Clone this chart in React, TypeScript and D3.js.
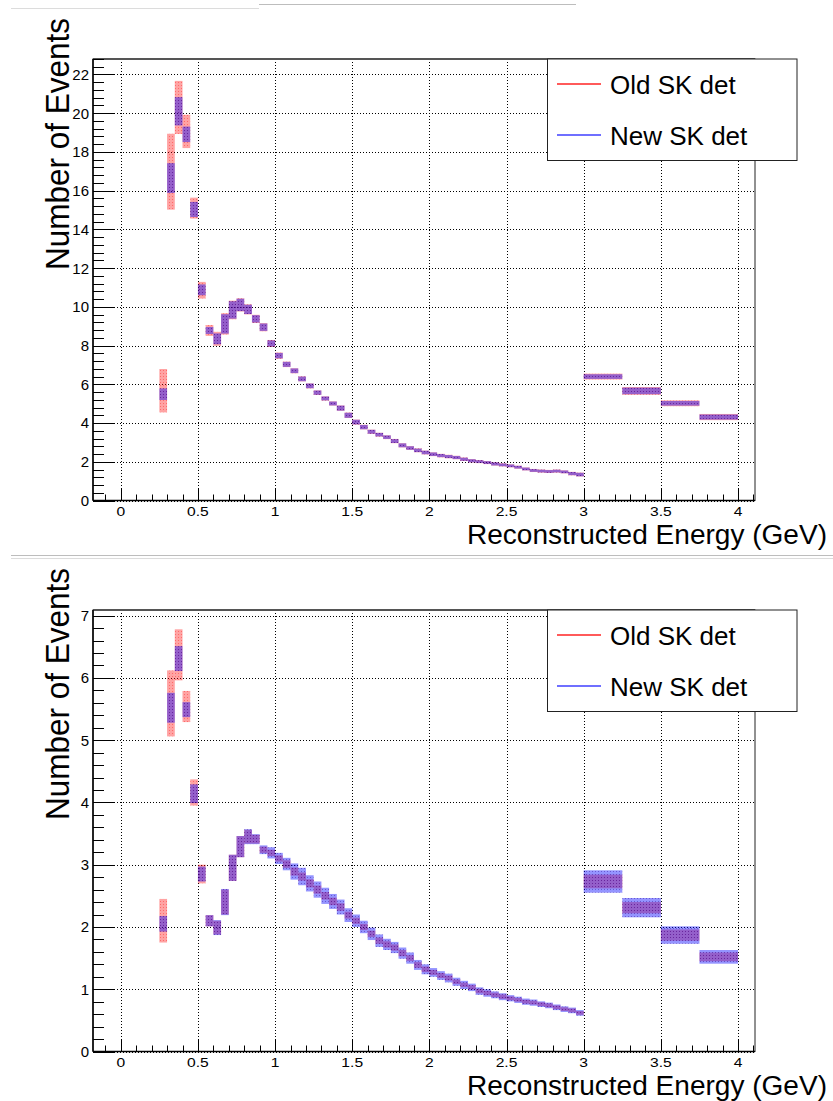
import React from "react";
import * as d3 from "d3";

// Bin edges of the reconstructed-energy histogram (GeV); bins below 0.25 GeV are empty.
const binEdges = [
  0.25, 0.3, 0.35, 0.4, 0.45, 0.5, 0.55, 0.6, 0.65, 0.7, 0.75, 0.8, 0.85, 0.9, 0.95,
  1.0, 1.05, 1.1, 1.15, 1.2, 1.25, 1.3, 1.35, 1.4, 1.45, 1.5, 1.55, 1.6, 1.65, 1.7,
  1.75, 1.8, 1.85, 1.9, 1.95, 2.0, 2.05, 2.1, 2.15, 2.2, 2.25, 2.3, 2.35, 2.4, 2.45,
  2.5, 2.55, 2.6, 2.65, 2.7, 2.75, 2.8, 2.85, 2.9, 2.95, 3.0, 3.25, 3.5, 3.75, 4.0,
];

// Upper panel: contents and errors per bin
const topOldValues = [
  5.67, 16.98, 20.3, 19.06, 15.1, 10.86, 8.78, 8.35, 9.12, 9.84, 10.1, 9.87, 9.38, 8.95, 8.11,
  7.48, 7.03, 6.7, 6.28, 5.92, 5.57, 5.27, 5.01, 4.77, 4.4, 4.05, 3.79, 3.55, 3.4, 3.27,
  3.07, 2.85, 2.71, 2.59, 2.48, 2.39, 2.32, 2.27, 2.22, 2.13, 2.05, 2.01, 1.96, 1.89, 1.84,
  1.79, 1.72, 1.63, 1.55, 1.52, 1.5, 1.52, 1.48, 1.39, 1.34, 6.4, 5.66, 5.02, 4.31,
];
const topOldErrors = [
  1.12, 1.96, 1.37, 0.86, 0.54, 0.43, 0.28, 0.36, 0.55, 0.48, 0.34, 0.26, 0.21, 0.21, 0.18,
  0.16, 0.14, 0.13, 0.13, 0.13, 0.12, 0.11, 0.11, 0.14, 0.14, 0.13, 0.12, 0.11, 0.1, 0.1,
  0.11, 0.11, 0.1, 0.1, 0.1, 0.1, 0.09, 0.09, 0.09, 0.09, 0.09, 0.08, 0.08, 0.09, 0.08,
  0.08, 0.08, 0.08, 0.08, 0.08, 0.08, 0.08, 0.08, 0.09, 0.1, 0.15, 0.2, 0.15, 0.16,
];
const topNewValues = [
  5.49, 16.65, 20.1, 18.91, 15.03, 10.88, 8.78, 8.35, 9.12, 9.84, 10.1, 9.87, 9.38, 8.95, 8.11,
  7.48, 7.03, 6.7, 6.28, 5.92, 5.57, 5.27, 5.01, 4.77, 4.4, 4.05, 3.79, 3.55, 3.4, 3.27,
  3.07, 2.85, 2.71, 2.59, 2.48, 2.39, 2.32, 2.27, 2.22, 2.13, 2.05, 2.01, 1.96, 1.89, 1.84,
  1.79, 1.72, 1.63, 1.55, 1.52, 1.5, 1.52, 1.48, 1.39, 1.34, 6.4, 5.66, 5.02, 4.31,
];
const topNewErrors = [
  0.3, 0.77, 0.73, 0.4, 0.39, 0.28, 0.18, 0.28, 0.5, 0.45, 0.32, 0.24, 0.19, 0.19, 0.16,
  0.14, 0.13, 0.12, 0.12, 0.12, 0.11, 0.1, 0.1, 0.13, 0.13, 0.12, 0.11, 0.1, 0.09, 0.09,
  0.1, 0.1, 0.09, 0.09, 0.09, 0.09, 0.08, 0.08, 0.08, 0.08, 0.08, 0.07, 0.07, 0.08, 0.07,
  0.07, 0.07, 0.07, 0.07, 0.07, 0.07, 0.07, 0.07, 0.08, 0.09, 0.12, 0.17, 0.12, 0.13,
];

// Lower panel: contents and errors per bin
const bottomOldValues = [
  2.1, 5.59, 6.37, 5.54, 4.16, 2.85, 2.1, 1.99, 2.4, 2.95, 3.29, 3.45, 3.41, 3.24, 3.19,
  3.1, 3.01, 2.89, 2.81, 2.7, 2.6, 2.5, 2.41, 2.32, 2.19, 2.1, 2.0, 1.89, 1.78, 1.72,
  1.67, 1.58, 1.5, 1.39, 1.32, 1.27, 1.22, 1.18, 1.12, 1.07, 1.03, 0.97, 0.94, 0.91, 0.88,
  0.855, 0.83, 0.8, 0.785, 0.76, 0.74, 0.71, 0.68, 0.66, 0.62, 2.73, 2.31, 1.87, 1.52,
];
const bottomOldErrors = [
  0.35, 0.53, 0.41, 0.25, 0.21, 0.15, 0.09, 0.11, 0.2, 0.21, 0.17, 0.11, 0.07, 0.05, 0.05,
  0.05, 0.06, 0.065, 0.065, 0.065, 0.065, 0.06, 0.06, 0.06, 0.055, 0.05, 0.05, 0.05, 0.05, 0.05,
  0.05, 0.05, 0.045, 0.045, 0.045, 0.04, 0.04, 0.04, 0.035, 0.035, 0.035, 0.035, 0.035, 0.035, 0.035,
  0.03, 0.03, 0.03, 0.03, 0.03, 0.03, 0.03, 0.03, 0.03, 0.03, 0.11, 0.09, 0.09, 0.07,
];
const bottomNewValues = [
  2.05, 5.52, 6.31, 5.49, 4.14, 2.85, 2.1, 1.99, 2.4, 2.95, 3.29, 3.45, 3.41, 3.24, 3.19,
  3.1, 3.01, 2.89, 2.81, 2.7, 2.6, 2.5, 2.41, 2.32, 2.19, 2.1, 2.0, 1.89, 1.78, 1.72,
  1.67, 1.58, 1.5, 1.39, 1.32, 1.27, 1.22, 1.18, 1.12, 1.07, 1.03, 0.97, 0.94, 0.91, 0.88,
  0.855, 0.83, 0.8, 0.785, 0.76, 0.74, 0.71, 0.68, 0.66, 0.62, 2.73, 2.31, 1.87, 1.52,
];
const bottomNewErrors = [
  0.125, 0.24, 0.2, 0.12, 0.15, 0.12, 0.09, 0.12, 0.21, 0.21, 0.17, 0.12, 0.08, 0.07, 0.09,
  0.09, 0.1, 0.13, 0.14, 0.13, 0.13, 0.13, 0.12, 0.12, 0.11, 0.1, 0.1, 0.1, 0.1, 0.09,
  0.09, 0.09, 0.09, 0.08, 0.08, 0.07, 0.07, 0.07, 0.065, 0.065, 0.06, 0.06, 0.06, 0.055, 0.055,
  0.05, 0.05, 0.05, 0.05, 0.045, 0.045, 0.045, 0.045, 0.045, 0.045, 0.18, 0.155, 0.14, 0.11,
];

const xTickLabels = ["0", "0.5", "1", "1.5", "2", "2.5", "3", "3.5", "4"];
const legendLabels = ["Old SK det", "New SK det"];
const xTitle = "Reconstructed Energy (GeV)";
const yTitle = "Number of Events";

const FONT = '"Liberation Sans", Arial, Helvetica, sans-serif';
const W = 833;
const H = 1101;
const LEFT = 93;
const RIGHT = 755;
const X_DOMAIN: [number, number] = [-0.18, 4.11];

type PanelProps = {
  id: string;
  top: number;
  bottom: number;
  yMax: number;
  yMajorStep: number;
  yMajorMax: number;
  yMinorStep: number;
  oldValues: number[];
  oldErrors: number[];
  newValues: number[];
  newErrors: number[];
  titleTop: number;
};

// approximate advance width of a numeric label, in em
function digitWidth(s: string) {
  let w = 0;
  for (const c of s) w += c === "." ? 0.278 : 0.556;
  return w;
}

function Panel(p: PanelProps) {
  const x = d3.scaleLinear().domain(X_DOMAIN).range([LEFT, RIGHT]);
  const y = d3.scaleLinear().domain([0, p.yMax]).range([p.bottom, p.top]);

  const xMajor = xTickLabels.map(Number);
  const xMinor = d3.range(-1, 42).map((k) => k / 10);
  const yMajorTicks = d3.range(0, Math.round(p.yMajorMax / p.yMajorStep) + 1).map((k) => k * p.yMajorStep);
  const nMinor = Math.floor(p.yMax / p.yMinorStep + 1e-6);
  const yMinorTicks = d3.range(0, nMinor + 1).map((k) => k * p.yMinorStep);

  const boxes = (vals: number[], errs: number[], fill: string) =>
    vals.map((v, i) => {
      const x0 = x(binEdges[i]);
      const x1 = x(binEdges[i + 1]);
      const yt = y(v + errs[i]);
      const yb = y(v - errs[i]);
      return <rect key={i} x={x0} y={yt} width={x1 - x0} height={Math.max(yb - yt, 1)} fill={fill} />;
    });

  const xLabelSize = 12.5;
  const legTop = p.top;

  return (
    <g>
      <defs>
        <clipPath id={`clip-${p.id}`}>
          <rect x={LEFT} y={p.top} width={RIGHT - LEFT} height={p.bottom - p.top} />
        </clipPath>
      </defs>

      {/* dotted grid */}
      <g stroke="#000" strokeWidth={1} strokeDasharray="1 2" fill="none">
        {yMajorTicks.map((t) => (
          <line key={`gy${t}`} x1={LEFT} x2={RIGHT} y1={Math.round(y(t)) + 0.5} y2={Math.round(y(t)) + 0.5} />
        ))}
        {xMajor.map((t) => (
          <line key={`gx${t}`} x1={Math.round(x(t)) + 0.5} x2={Math.round(x(t)) + 0.5} y1={p.top} y2={p.bottom} />
        ))}
      </g>

      {/* error boxes: old detector first, new detector on top */}
      <g clipPath={`url(#clip-${p.id})`}>
        {boxes(p.oldValues, p.oldErrors, "url(#patRed)")}
        {boxes(p.newValues, p.newErrors, "url(#patBlue)")}
      </g>

      {/* frame */}
      <rect x={LEFT} y={p.top} width={RIGHT - LEFT} height={p.bottom - p.top} fill="none" stroke="#222" strokeWidth={1} />
      <line x1={LEFT} x2={RIGHT} y1={p.top} y2={p.top} stroke="#555" strokeWidth={2} />

      {/* x axis ticks */}
      <g stroke="#000" strokeWidth={1}>
        {xMinor.map((t) => {
          const isMajor = Math.abs(t * 2 - Math.round(t * 2)) < 1e-6;
          const len = isMajor ? 12 : 6;
          const xx = Math.round(x(t)) + 0.5;
          return <line key={`xt${t}`} x1={xx} x2={xx} y1={p.bottom} y2={p.bottom - len} />;
        })}
      </g>
      <line x1={LEFT} x2={RIGHT} y1={p.bottom} y2={p.bottom} stroke="#000" strokeWidth={1.5} />
      {xMajor.map((t, i) => {
        const lab = xTickLabels[i];
        return (
          <text
            key={`xl${t}`}
            x={x(t)}
            y={p.bottom + 15.5}
            textAnchor="middle"
            fontFamily={FONT}
            fontSize={xLabelSize}
            textLength={digitWidth(lab) * xLabelSize * 1.25}
            lengthAdjust="spacingAndGlyphs"
            fill="#000"
          >
            {lab}
          </text>
        );
      })}

      {/* y axis ticks */}
      <g stroke="#000" strokeWidth={1}>
        {yMinorTicks.map((t) => {
          const isMajor = Math.abs(t / p.yMajorStep - Math.round(t / p.yMajorStep)) < 1e-6;
          const len = isMajor ? 22 : 11;
          const yy = Math.round(y(t)) + 0.5;
          return <line key={`yt${t}`} x1={LEFT} x2={LEFT + len} y1={yy} y2={yy} />;
        })}
      </g>
      <line x1={LEFT} x2={LEFT} y1={p.top} y2={p.bottom} stroke="#000" strokeWidth={1.5} />
      {yMajorTicks.map((t) => (
        <text key={`yl${t}`} x={89} y={y(t)} dy="0.36em" textAnchor="end" fontFamily={FONT} fontSize={15} fill="#000">
          {String(t)}
        </text>
      ))}

      {/* axis titles */}
      <text
        transform={`translate(69,${p.titleTop}) rotate(-90)`}
        textAnchor="end"
        fontFamily={FONT}
        fontSize={33}
        textLength={252}
        lengthAdjust="spacingAndGlyphs"
        fill="#000"
      >
        {yTitle}
      </text>
      <text
        x={827}
        y={p.bottom + 43.5}
        textAnchor="end"
        fontFamily={FONT}
        fontSize={27}
        textLength={360}
        lengthAdjust="spacingAndGlyphs"
        fill="#000"
      >
        {xTitle}
      </text>

      {/* legend */}
      <rect x={547.5} y={legTop} width={249.5} height={101.5} fill="#fff" stroke="#222" strokeWidth={1} />
      <line x1={557} x2={601} y1={legTop + 25} y2={legTop + 25} stroke="#ff5a5a" strokeWidth={1.8} />
      <line x1={557} x2={601} y1={legTop + 76} y2={legTop + 76} stroke="#6f6fff" strokeWidth={1.8} />
      <text x={610} y={legTop + 35} fontFamily={FONT} fontSize={26} fill="#000">
        {legendLabels[0]}
      </text>
      <text x={610} y={legTop + 86} fontFamily={FONT} fontSize={26} fill="#000">
        {legendLabels[1]}
      </text>
    </g>
  );
}

export default function App() {
  return (
    <svg
      width={W}
      height={H}
      viewBox={`0 0 ${W} ${H}`}
      style={{ position: "absolute", left: 0, top: 0, background: "#fff" }}
    >
      <defs>
        <pattern id="patRed" patternUnits="userSpaceOnUse" width={3} height={3}>
          <rect width={3} height={3} fill="rgb(255,0,0)" fillOpacity={0.36} />
          <rect x={1} y={1} width={1} height={1} fill="rgb(255,0,0)" fillOpacity={0.35} />
        </pattern>
        <pattern id="patBlue" patternUnits="userSpaceOnUse" width={3} height={3}>
          <rect width={3} height={3} fill="rgb(0,0,255)" fillOpacity={0.42} />
          <rect x={1} y={1} width={1} height={1} fill="rgb(40,0,140)" fillOpacity={0.4} />
        </pattern>
      </defs>
      <rect width={W} height={H} fill="#fff" />

      {/* page separators */}
      <line x1={11} x2={259} y1={8.5} y2={8.5} stroke="#dcdcdc" strokeWidth={1} />
      <line x1={259} x2={576} y1={4.5} y2={4.5} stroke="#bdbdbd" strokeWidth={1} />
      <line x1={11} x2={833} y1={555.5} y2={555.5} stroke="#bdbdbd" strokeWidth={1} />
      <line x1={11} x2={833} y1={558.5} y2={558.5} stroke="#dcdcdc" strokeWidth={1} />

      <Panel
        id="top"
        top={59}
        bottom={500.5}
        yMax={22.8}
        yMajorStep={2}
        yMajorMax={22}
        yMinorStep={0.4}
        oldValues={topOldValues}
        oldErrors={topOldErrors}
        newValues={topNewValues}
        newErrors={topNewErrors}
        titleTop={18}
      />
      <Panel
        id="bottom"
        top={610}
        bottom={1051.5}
        yMax={7.09}
        yMajorStep={1}
        yMajorMax={7}
        yMinorStep={0.2}
        oldValues={bottomOldValues}
        oldErrors={bottomOldErrors}
        newValues={bottomNewValues}
        newErrors={bottomNewErrors}
        titleTop={568}
      />
    </svg>
  );
}
